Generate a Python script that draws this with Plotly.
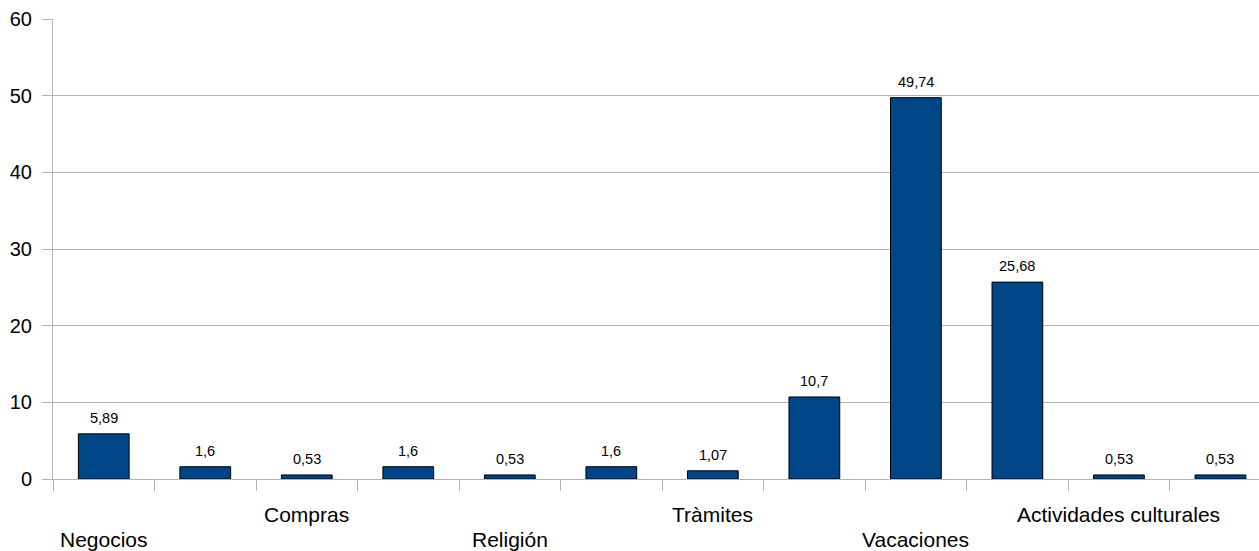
import plotly.graph_objects as go

# Data
values = [5.89, 1.6, 0.53, 1.6, 0.53, 1.6, 1.07, 10.7, 49.74, 25.68, 0.53, 0.53]
value_labels = ["5,89", "1,6", "0,53", "1,6", "0,53", "1,6", "1,07", "10,7", "49,74", "25,68", "0,53", "0,53"]
# Only some category names are visible in the chart (others hidden by overlap)
category_labels = ["Negocios", "", "Compras", "", "Religión", "", "Tràmites", "", "Vacaciones", "", "Actividades culturales", ""]
y_ticks = [0, 10, 20, 30, 40, 50, 60]

x = list(range(len(values)))
FONT = "Liberation Sans, Arial, sans-serif"
GRID = "#b3b3b3"

fig = go.Figure()
fig.add_trace(go.Bar(
    x=x, y=values, width=0.5,
    marker=dict(color="#004586", line=dict(color="#000000", width=1)),
    hoverinfo="skip",
))

annotations = []
for xi, v, t in zip(x, values, value_labels):
    annotations.append(dict(x=xi, y=v, xref="x", yref="y", text=t, showarrow=False,
                            yanchor="bottom", yshift=6,
                            font=dict(family=FONT, size=14.5, color="#000000")))
for i, lab in enumerate(category_labels):
    if not lab:
        continue
    row = (i // 2) % 2  # alternate rows: 0 -> lower, 1 -> upper
    shift = -60 if row == 0 else -35
    annotations.append(dict(x=i, y=0, xref="x", yref="y", text=lab, showarrow=False,
                            yanchor="middle", yshift=shift,
                            font=dict(family=FONT, size=21, color="#000000")))

boundaries = [i - 0.5 for i in range(len(values) + 1)]

fig.update_layout(
    width=1259, height=551,
    margin=dict(l=53, r=0, t=19, b=72),
    plot_bgcolor="white", paper_bgcolor="white",
    showlegend=False,
    annotations=annotations,
    xaxis=dict(
        range=[-0.5, 11.38], tickmode="array", tickvals=boundaries,
        ticktext=["" for _ in boundaries],
        ticks="outside", ticklen=11, tickcolor=GRID, tickwidth=1,
        showgrid=False, zeroline=False, automargin=False,
        showline=True, linecolor=GRID, linewidth=1,
    ),
    yaxis=dict(
        range=[0, 60], tickmode="array", tickvals=y_ticks,
        ticks="outside", ticklen=10, tickcolor=GRID, tickwidth=1,
        showgrid=True, gridcolor=GRID, gridwidth=1, automargin=False,
        zeroline=False, showline=True, linecolor=GRID, linewidth=1,
        tickfont=dict(family=FONT, size=20, color="#000000"),
        ticklabelstandoff=6,
    ),
)

fig.write_html("out.html", config={"displayModeBar": False},
               post_script="document.body.style.margin='0';document.body.style.overflow='hidden';")
